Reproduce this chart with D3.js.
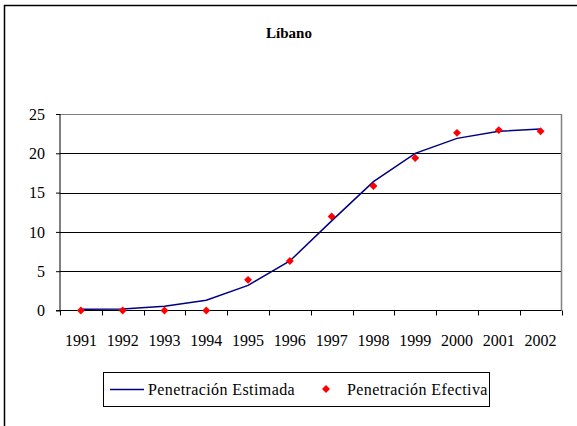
<!DOCTYPE html>
<html><head><meta charset="utf-8">
<script src="https://cdn.jsdelivr.net/npm/d3@7"></script>
<style>body{margin:0;background:#fff}svg{display:block}
svg text{font-family:"Liberation Serif","DejaVu Serif","Noto Serif",serif !important;}</style>
</head><body>
<script>
const years = ["1991","1992","1993","1994","1995","1996","1997","1998","1999","2000","2001","2002"];
const estimada = [0.15,0.2,0.55,1.3,3.2,6.3,11.4,16.4,20.0,21.9,22.8,23.1];
const efectiva = [0,0,0,0,3.9,6.3,11.95,15.85,19.4,22.6,22.95,22.8];
const yTicks = [0,5,10,15,20,25];

const W=577,H=426;
const svg=d3.select("body").append("svg").attr("width",W).attr("height",H);
svg.append("rect").attr("x",4.5).attr("y",5.5).attr("width",W+10).attr("height",H+10)
  .attr("fill","#fff").attr("stroke","#000").attr("stroke-width",1.5);

const L=60,R=561.5,T=114,B=310.5;
const x=d3.scaleBand().domain(years).range([L,R]);
const y=d3.scaleLinear().domain([0,25]).range([B,T]);

svg.append("text").attr("x",289).attr("y",38).attr("text-anchor","middle")
  .attr("font-weight","bold").attr("font-size",15).text("Líbano");

svg.append("g").selectAll("line").data(yTicks.filter(d=>d>0)).join("line")
  .attr("x1",L).attr("x2",R).attr("y1",d=>Math.round(y(d))+0.5).attr("y2",d=>Math.round(y(d))+0.5)
  .attr("stroke",d=>d===25?"#808080":"#000").attr("stroke-width",1);
svg.append("line").attr("x1",R).attr("x2",R).attr("y1",T).attr("y2",B).attr("stroke","#808080").attr("stroke-width",1.5);

const ya=svg.append("g").attr("transform",`translate(${L},0)`)
  .call(d3.axisLeft(y).tickValues(yTicks).tickSize(4).tickPadding(11));
const xa=svg.append("g").attr("transform",`translate(0,${B})`)
  .call(d3.axisBottom(x).tickSize(0).tickPadding(24));
xa.selectAll(".domain").remove();
svg.append("line").attr("x1",L-4).attr("x2",R).attr("y1",B).attr("y2",B).attr("stroke","#000");
svg.append("g").selectAll("line").data(d3.range(years.length+1)).join("line")
  .attr("x1",i=>Math.round(L+i*x.step())+0.5).attr("x2",i=>Math.round(L+i*x.step())+0.5)
  .attr("y1",B).attr("y2",B+5).attr("stroke","#000");
[ya,xa].forEach(g=>{g.selectAll("text").attr("font-size",16).attr("fill","#000");
  g.selectAll(".domain,line").attr("stroke","#000");});
ya.select(".domain").attr("d",`M0,${T}V${B}`);

const cx=d=>x(d)+x.bandwidth()/2;
svg.append("path").datum(years.map((d,i)=>[cx(d),y(estimada[i])]))
  .attr("d",d3.line()).attr("fill","none").attr("stroke","#000080").attr("stroke-width",1.5);

const diamond=d3.symbol().type(d3.symbolDiamond2).size(40);
svg.append("g").selectAll("path").data(years).join("path")
  .attr("transform",(d,i)=>`translate(${cx(d)},${y(efectiva[i])})`)
  .attr("d",diamond).attr("fill","#ff0000");

const lg=svg.append("g");
lg.append("rect").attr("x",103.5).attr("y",372.5).attr("width",386).attr("height",34)
  .attr("fill","#fff").attr("stroke","#000");
lg.append("line").attr("x1",110).attr("x2",144).attr("y1",389.5).attr("y2",389.5).attr("stroke","#000080").attr("stroke-width",1.5);
lg.append("text").attr("x",148).attr("y",394.5).attr("font-size",16).attr("letter-spacing",0.4).text("Penetración Estimada");
lg.append("path").attr("transform","translate(326,389)").attr("d",diamond).attr("fill","#ff0000");
lg.append("text").attr("x",347).attr("y",394.5).attr("font-size",16).attr("letter-spacing",0.4).text("Penetración Efectiva");
</script>
</body></html>
